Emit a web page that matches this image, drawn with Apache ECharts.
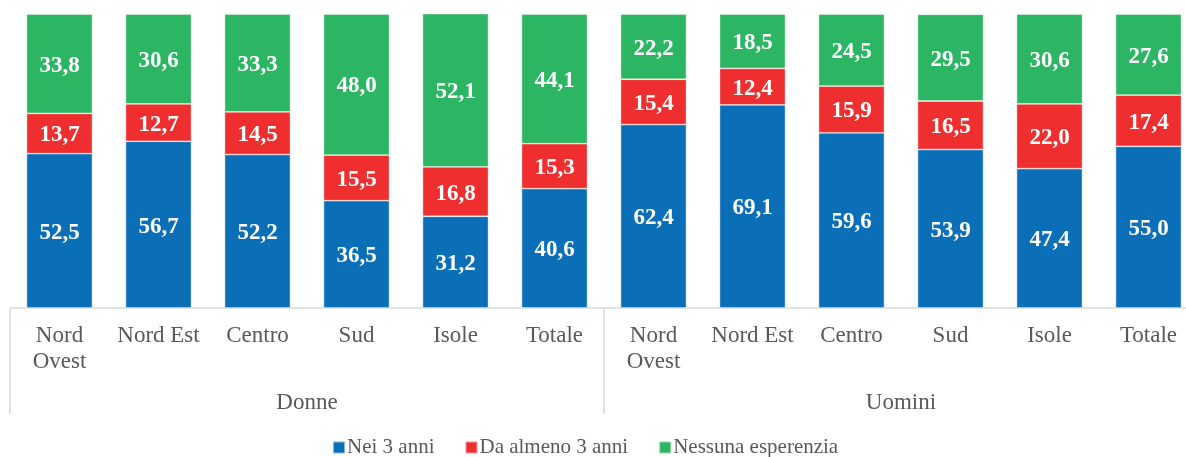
<!DOCTYPE html>
<html>
<head>
<meta charset="utf-8">
<script src="https://cdn.jsdelivr.net/npm/echarts@6/dist/echarts.min.js"></script>
<style>html,body{margin:0;padding:0;background:#fff}#c{width:1186px;height:457px}</style>
</head>
<body>
<div id="c"></div>
<script>
const categories = ['Nord\nOvest','Nord Est','Centro','Sud','Isole','Totale','Nord\nOvest','Nord Est','Centro','Sud','Isole','Totale'];
const groups = ['Donne','Uomini'];
const seriesNames = ['Nei 3 anni','Da almeno 3 anni','Nessuna esperenzia'];
const nei3anni = [52.5,56.7,52.2,36.5,31.2,40.6,62.4,69.1,59.6,53.9,47.4,55.0];
const daAlmeno3 = [13.7,12.7,14.5,15.5,16.8,15.3,15.4,12.4,15.9,16.5,22.0,17.4];
const nessuna = [33.8,30.6,33.3,48.0,52.1,44.1,22.2,18.5,24.5,29.5,30.6,27.6];

const FONT = '"Liberation Serif","Times New Roman",serif';
const colors = ['#0b6fb8','#ee2e2f','#2cb562'];
const dataSets = [nei3anni, daAlmeno3, nessuna];

const chart = echarts.init(document.getElementById('c'));
chart.setOption({
  animation: false,
  color: colors,
  textStyle: {fontFamily: FONT},
  grid: {left: 10, width: 1188, top: 14, bottom: 149, containLabel: false, outerBoundsMode: 'none'},
  legend: {
    bottom: -6, left: 327, itemWidth: 12, itemHeight: 12, itemGap: 30,
    icon: 'rect',
    textStyle: {fontFamily: FONT, fontSize: 21, color: '#595959', padding: [0,0,0,-3]},
    data: seriesNames
  },
  xAxis: [
    {
      type: 'category', data: categories, position: 'bottom',
      axisLine: {show: true, lineStyle: {color: '#d9d9d9', width: 1.5}},
      axisTick: {show: false},
      axisLabel: {interval: 0, fontFamily: FONT, fontSize: 23, color: '#595959', lineHeight: 26, margin: 15}
    },
    {
      type: 'category', data: groups, position: 'bottom',
      axisLine: {show: false},
      axisTick: {show: true, length: 106, interval: 0, lineStyle: {color: '#d9d9d9', width: 1.5}},
      axisLabel: {interval: 0, fontFamily: FONT, fontSize: 23, color: '#595959', margin: 83}
    }
  ],
  yAxis: {type: 'value', min: 0, max: 100, show: false},
  series: seriesNames.map((n, i) => ({
    name: n, type: 'bar', stack: 'tot', xAxisIndex: 0,
    barWidth: 66,
    data: dataSets[i],
    itemStyle: {borderColor: 'rgba(255,255,255,0.5)', borderWidth: 0.8},
    label: {
      show: true, position: 'inside', color: '#fff', fontWeight: 'bold',
      fontFamily: FONT, fontSize: 23, offset: [0, 2],
      formatter: p => p.value.toFixed(1).replace('.', ',')
    }
  }))
});
</script>
</body>
</html>
